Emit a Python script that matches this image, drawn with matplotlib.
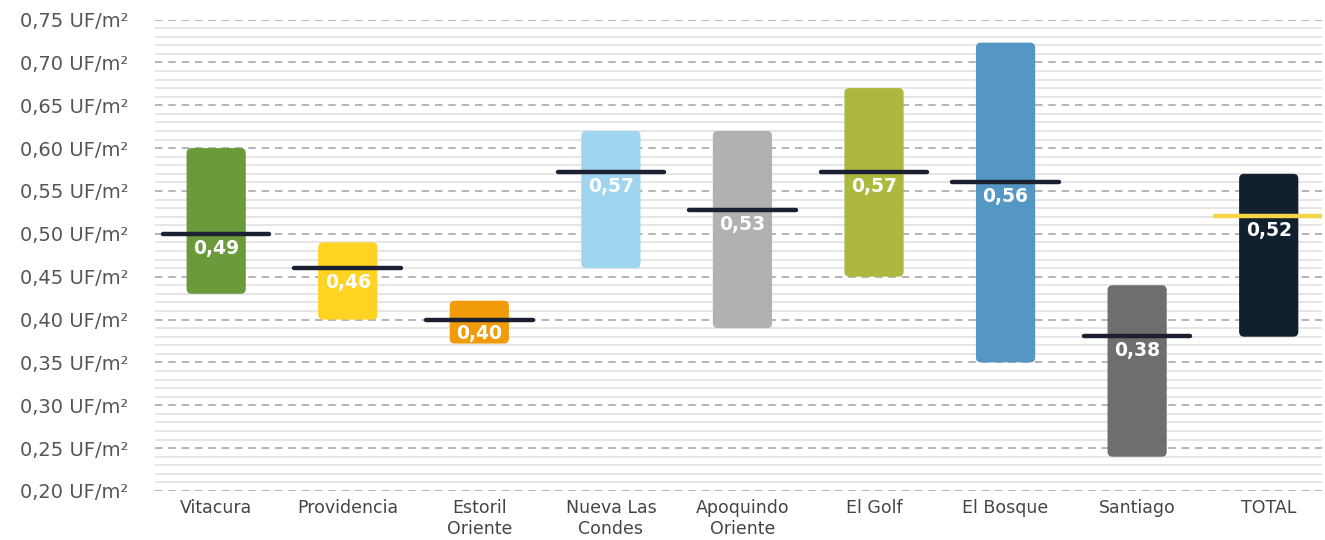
import matplotlib
matplotlib.use("Agg")
import matplotlib.pyplot as plt
from matplotlib.patches import FancyBboxPatch
import numpy as np

plt.rcParams['font.family'] = ['DejaVu Sans']

categories = ["Vitacura", "Providencia", "Estoril\nOriente", "Nueva Las\nCondes",
              "Apoquindo\nOriente", "El Golf", "El Bosque", "Santiago", "TOTAL"]
min_vals = [0.43, 0.40, 0.372, 0.46, 0.39, 0.45, 0.35, 0.24, 0.38]
max_vals = [0.60, 0.49, 0.422, 0.62, 0.62, 0.67, 0.723, 0.44, 0.57]
avg_vals = [0.50, 0.46, 0.40, 0.572, 0.528, 0.572, 0.56, 0.381, 0.521]
avg_labels = ["0,49", "0,46", "0,40", "0,57", "0,53", "0,57", "0,56", "0,38", "0,52"]
colors = ["#6a9a3a", "#ffd321", "#f29b0a", "#9fd5ee", "#b1b1b1",
          "#adb83e", "#5597c4", "#6e6e6e", "#111f2e"]
line_colors = ["#1b2033"] * 8 + ["#f5d547"]
y_ticks = [0.20, 0.25, 0.30, 0.35, 0.40, 0.45, 0.50, 0.55, 0.60, 0.65, 0.70, 0.75]

W, H = 1325, 540
fig = plt.figure(figsize=(W / 100, H / 100), dpi=100)
ax_left, ax_right = 155 / W, 1322 / W
ax_bottom, ax_top = (H - 491) / H, (H - 19.5) / H
ax = fig.add_axes([ax_left, ax_bottom, ax_right - ax_left, ax_top - ax_bottom])

x = np.arange(len(categories))
ax.set_xlim(-0.465, 8.405)
ax.set_ylim(0.20, 0.75)

# background grid: light solid lines every 0.01, dashed every 0.05
for v in np.arange(0.20, 0.7501, 0.01):
    if abs(round(v * 100) % 5) != 0:
        ax.axhline(v, color="#e6e6e6", lw=1.4, zorder=0)
for v in y_ticks:
    ax.axhline(v, color="#a8a8a8", lw=1.2, ls=(0, (4.5, 3.5)), zorder=0.5)

bar_w = 0.45
heights = [mx - mn for mx, mn in zip(max_vals, min_vals)]
bars = ax.bar(x, heights, bottom=min_vals, width=bar_w, color=colors, zorder=2)

# replace rectangles by rounded boxes
xr = 5 / 131.6
yr = 5 / 856
for b, c in zip(bars, colors):
    bx, by = b.get_x(), b.get_y()
    bw, bh = b.get_width(), b.get_height()
    b.set_visible(False)
    p = FancyBboxPatch((bx, by), bw, bh,
                       boxstyle=f"round,pad=0,rounding_size={xr}",
                       mutation_aspect=yr / xr,
                       facecolor=c, edgecolor="none", zorder=2)
    ax.add_patch(p)

line_w = 0.81
for xi, a, lab, lc in zip(x, avg_vals, avg_labels, line_colors):
    ax.plot([xi - line_w / 2, xi + line_w / 2], [a, a], color=lc, lw=3.2,
            solid_capstyle="round", zorder=3)
    ax.annotate(lab, (xi, a), xytext=(0, -3.5), textcoords="offset points",
                ha="center", va="top", color="white", fontsize=13.5,
                fontweight="bold", zorder=4)

ax.set_yticks(y_ticks)
ax.set_yticklabels([f"{v:.2f}".replace(".", ",") + " UF/m²" for v in y_ticks],
                   fontsize=14, color="#555555")
ax.set_xticks(x)
ax.set_xticklabels(categories, fontsize=12.5, color="#444444", linespacing=1.2)
ax.tick_params(axis="both", length=0)
ax.tick_params(axis="y", pad=19)
ax.tick_params(axis="x", pad=6)
for s in ax.spines.values():
    s.set_visible(False)

fig.savefig("out.png", dpi=100)
